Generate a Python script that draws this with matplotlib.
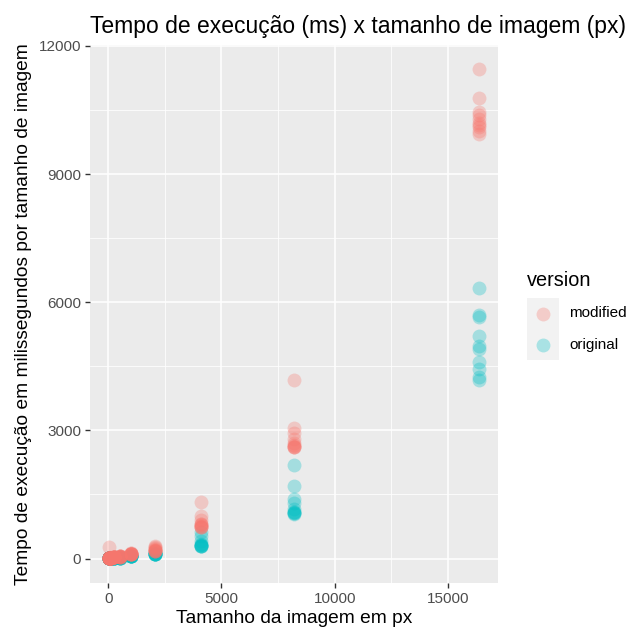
import numpy as np
import matplotlib
matplotlib.use("Agg")
import matplotlib.pyplot as plt

plt.rcParams['font.family'] = ['Liberation Sans', 'DejaVu Sans']

# image sizes (px) tested, 10 runs each
sizes = [16, 32, 64, 128, 256, 512, 1024, 2048, 4096, 8192, 16384]

modified = [
    [260, 20, 15, 12, 10, 10, 8, 8, 8, 8],
    [15, 12, 10, 10, 10, 10, 10, 10, 10, 10],
    [20, 15, 12, 12, 12, 12, 12, 12, 12, 12],
    [25, 20, 18, 18, 18, 18, 18, 18, 18, 18],
    [35, 30, 28, 28, 28, 28, 28, 28, 28, 28],
    [70, 55, 50, 48, 48, 46, 46, 45, 45, 45],
    [130, 120, 115, 110, 108, 106, 105, 104, 103, 102],
    [300, 280, 250, 220, 200, 190, 185, 180, 180, 178],
    [1330, 1000, 900, 820, 800, 780, 760, 750, 740, 730],
    [4180, 3050, 2950, 2800, 2700, 2650, 2630, 2620, 2600, 2600],
    [11450, 10780, 10450, 10380, 10300, 10200, 10150, 10100, 10000, 9950],
]

original = [
    [10, 6, 5, 5, 5, 5, 5, 5, 5, 5],
    [8, 6, 6, 6, 6, 6, 6, 6, 6, 6],
    [10, 8, 8, 8, 8, 8, 8, 8, 8, 8],
    [12, 10, 10, 10, 10, 10, 10, 10, 10, 10],
    [18, 15, 14, 14, 14, 14, 14, 14, 14, 14],
    [30, 26, 25, 24, 24, 24, 24, 24, 24, 24],
    [60, 55, 52, 50, 50, 50, 49, 49, 48, 48],
    [150, 120, 110, 105, 100, 100, 98, 97, 96, 95],
    [620, 520, 400, 340, 320, 310, 300, 300, 290, 290],
    [2200, 1700, 1400, 1300, 1150, 1100, 1080, 1070, 1060, 1050],
    [6330, 5700, 5650, 5200, 4970, 4900, 4600, 4430, 4250, 4180],
]

versions = ["modified", "original"]
colors = {"modified": "#F8766D", "original": "#00BFC4"}

xticks = [0, 5000, 10000, 15000]
yticks = [0, 3000, 6000, 9000, 12000]

fig = plt.figure(figsize=(6.41, 6.36), dpi=100)
ax = fig.add_axes([90 / 641, 1 - 583 / 636, 408 / 641, 538 / 636])
ax.set_facecolor("#EBEBEB")

# original first so modified sits on top
for name, vals in [("original", original), ("modified", modified)]:
    xs = np.repeat(sizes, [len(v) for v in vals])
    ys = np.concatenate(vals)
    ax.scatter(xs, ys, s=100, color=colors[name], alpha=0.3,
               linewidths=0, zorder=3)

# ggplot-like limits (5% expansion)
xmin, xmax = 16, 16384
ymin, ymax = 0, 11450
dx = (xmax - xmin) * 0.05
dy = (ymax - ymin) * 0.05
ax.set_xlim(xmin - dx, xmax + dx)
ax.set_ylim(ymin - dy, ymax + dy)

ax.set_xticks(xticks)
ax.set_yticks(yticks)
ax.set_xticks([2500, 7500, 12500], minor=True)
ax.set_yticks([1500, 4500, 7500, 10500], minor=True)
ax.grid(True, which="major", color="white", linewidth=1.1, zorder=0)
ax.grid(True, which="minor", color="white", linewidth=0.55, zorder=0)
ax.set_axisbelow(True)
for sp in ax.spines.values():
    sp.set_visible(False)
ax.tick_params(which="major", length=3.5, width=1.0, color="#333333",
               labelcolor="#4D4D4D", labelsize=11, pad=3)
ax.tick_params(which="minor", length=0)

ax.set_title("Tempo de execução (ms) x tamanho de imagem (px)",
             fontsize=16.5, loc="left", pad=9)
ax.set_xlabel("Tamanho da imagem em px", fontsize=13.8, labelpad=3)
ax.set_ylabel("Tempo de execução em milissegundos por tamanho de imagem",
              fontsize=13.8, labelpad=5)

# legend, drawn by hand in ggplot style
fig.text(527 / 641, 1 - 286 / 636, "version", fontsize=14.3, ha="left",
         va="baseline")
lax = fig.add_axes([527 / 641, 1 - 360 / 636, 32 / 641, 62 / 636])
lax.set_facecolor("#F2F2F2")
lax.set_xlim(0, 1)
lax.set_ylim(0, 2)
lax.set_xticks([])
lax.set_yticks([])
for sp in lax.spines.values():
    sp.set_visible(False)
for i, name in enumerate(versions):
    yy = 1.5 - i
    lax.scatter([0.5], [yy], s=100, color=colors[name], alpha=0.3,
                linewidths=0)
    fig.text(569 / 641, 1 - (313 + i * 32) / 636, name, fontsize=11,
             ha="left", va="center")

fig.savefig("out.png", dpi=100)
